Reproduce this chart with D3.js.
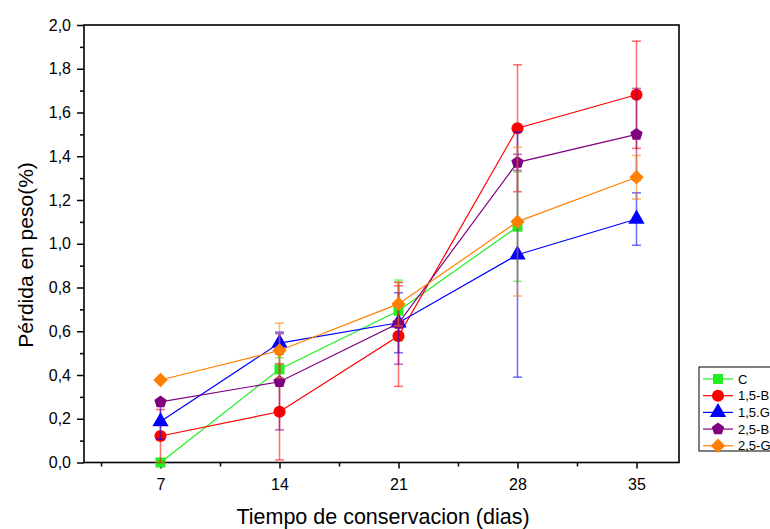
<!DOCTYPE html>
<html>
<head>
<meta charset="utf-8">
<script src="https://cdn.jsdelivr.net/npm/d3@7"></script>
<style>
  body { margin: 0; background: #fff; }
  svg { font-family: "Liberation Sans", Arial, sans-serif; }
</style>
</head>
<body>
<div id="chart"></div>
<script>
// days of storage
var days = [7, 14, 21, 28, 35];
var seriesNames = ["C", "1,5-B", "1,5.G", "2,5-B", "2,5-G"];
var seriesColors = ["#22ee22", "#ff0000", "#0000ff", "#800080", "#ff8000"];

// weight loss (%), null = no point
var valC   = [0.0, 0.426, 0.694, 1.078, null];
var val15B = [0.121, 0.232, 0.578, 1.528, 1.681];
var val15G = [0.187, 0.546, 0.639, 0.950, 1.113];
var val25B = [0.277, 0.369, 0.636, 1.372, 1.500];
var val25G = [0.377, 0.512, 0.725, 1.101, 1.304];

// error bar half heights
var errC   = [0.0, 0.053, 0.14, 0.25, null];
var err15B = [0.121, 0.22, 0.23, 0.29, 0.245];
var err15G = [0.08, 0.05, 0.137, 0.56, 0.12];
var err25B = [0.01, 0.22, 0.187, 0.037, 0.21];
var err25G = [0.0, 0.125, 0.10, 0.34, 0.10];

var yTicks = [0, 0.2, 0.4, 0.6, 0.8, 1.0, 1.2, 1.4, 1.6, 1.8, 2.0];

var allVals = [valC, val15B, val15G, val25B, val25G];
var allErrs = [errC, err15B, err15G, err25B, err25G];
var symbols = [d3.symbolSquare, d3.symbolCircle, d3.symbolTriangle, "pentagon", "diamond"];

var width = 770, height = 529;
var pLeft = 84, pRight = 679, pTop = 25, pBottom = 462.5;

var svg = d3.select("#chart").append("svg")
    .attr("width", width)
    .attr("height", height);

var x = d3.scaleLinear().domain([2.5, 37.5]).range([pLeft, pRight]);
var y = d3.scaleLinear().domain([0, 2]).range([pBottom, pTop]);

// frame
svg.append("rect")
    .attr("x", pLeft).attr("y", pTop)
    .attr("width", pRight - pLeft).attr("height", pBottom - pTop)
    .attr("fill", "none").attr("stroke", "#000").attr("stroke-width", 1.6);

// x axis, major + minor ticks
var xMinor = d3.range(3.5, 37.5, 7);
svg.append("g")
    .attr("transform", "translate(0," + pBottom + ")")
    .call(d3.axisBottom(x).tickValues(xMinor).tickSize(4).tickFormat(""))
    .call(function (g) { g.select(".domain").remove(); });
var xAxis = svg.append("g")
    .attr("transform", "translate(0," + pBottom + ")")
    .call(d3.axisBottom(x).tickValues(days).tickSize(6).tickPadding(10));
xAxis.select(".domain").remove();
xAxis.selectAll("text").attr("font-size", 16).attr("fill", "#000")
    .attr("font-family", "Liberation Sans, Arial, sans-serif");

// y axis
var yMinor = d3.range(0.1, 2.0, 0.2);
svg.append("g")
    .attr("transform", "translate(" + pLeft + ",0)")
    .call(d3.axisLeft(y).tickValues(yMinor).tickSize(4).tickFormat(""))
    .call(function (g) { g.select(".domain").remove(); });
var yAxis = svg.append("g")
    .attr("transform", "translate(" + pLeft + ",0)")
    .call(d3.axisLeft(y).tickValues(yTicks).tickSize(7).tickPadding(6)
        .tickFormat(function (d) { return d3.format(".1f")(d).replace(".", ","); }));
yAxis.select(".domain").remove();
yAxis.selectAll("text").attr("font-size", 16).attr("fill", "#000")
    .attr("font-family", "Liberation Sans, Arial, sans-serif");
svg.selectAll(".tick line").attr("stroke", "#000").attr("stroke-width", 1.5);

// axis titles
svg.append("text")
    .attr("x", 383).attr("y", 524)
    .attr("text-anchor", "middle").attr("font-size", 21.5)
    .text("Tiempo de conservacion (dias)");
svg.append("text")
    .attr("transform", "translate(33,255) rotate(-90)")
    .attr("text-anchor", "middle").attr("font-size", 21)
    .text("Pérdida en peso(%)");

function polygon(n, r, rot) {
    var pts = [];
    for (var k = 0; k < n; k++) {
        var a = rot + k * 2 * Math.PI / n;
        pts.push([r * Math.cos(a), r * Math.sin(a)]);
    }
    return "M" + pts.map(function (p) { return p.join(","); }).join("L") + "Z";
}

function markerPath(i) {
    if (symbols[i] === "pentagon") return polygon(5, 6.5, -Math.PI / 2);
    if (symbols[i] === "diamond") return polygon(4, 7.2, -Math.PI / 2);
    var sizes = [100, 115, 115];
    return d3.symbol().type(symbols[i]).size(sizes[i])();
}

// series
allVals.forEach(function (vals, i) {
    var pts = days.map(function (d, j) {
        return { day: d, v: vals[j], e: allErrs[i][j] };
    }).filter(function (p) { return p.v !== null; });
    var g = svg.append("g");
    var color = seriesColors[i];

    // error bars
    pts.forEach(function (p) {
        if (!p.e) return;
        var eb = g.append("g").attr("stroke", color).attr("stroke-opacity", 0.55).attr("stroke-width", 1.6);
        eb.append("line").attr("x1", x(p.day)).attr("x2", x(p.day))
            .attr("y1", y(p.v - p.e)).attr("y2", y(p.v + p.e));
        [p.v - p.e, p.v + p.e].forEach(function (v) {
            eb.append("line").attr("x1", x(p.day) - 4.5).attr("x2", x(p.day) + 4.5)
                .attr("y1", y(v)).attr("y2", y(v));
        });
    });

    g.append("path")
        .datum(pts)
        .attr("fill", "none")
        .attr("stroke", color)
        .attr("stroke-width", 1.2)
        .attr("d", d3.line().x(function (p) { return x(p.day); }).y(function (p) { return y(p.v); }));

    g.selectAll(".mk").data(pts).enter().append("path")
        .attr("class", "mk")
        .attr("transform", function (p) { return "translate(" + x(p.day) + "," + y(p.v) + ")"; })
        .attr("d", markerPath(i))
        .attr("fill", color);
});

// legend
var lg = svg.append("g").attr("transform", "translate(699,367)");
lg.append("rect").attr("width", 90).attr("height", 84)
    .attr("fill", "#fff").attr("stroke", "#000").attr("stroke-width", 1);
seriesNames.forEach(function (name, i) {
    var yy = 12 + i * 16.7;
    lg.append("line").attr("x1", 4).attr("x2", 34).attr("y1", yy).attr("y2", yy)
        .attr("stroke", seriesColors[i]).attr("stroke-width", 1.2);
    lg.append("path").attr("transform", "translate(19," + yy + ")")
        .attr("d", markerPath(i)).attr("fill", seriesColors[i]);
    lg.append("text").attr("x", 39).attr("y", yy + 4.5)
        .attr("font-size", 13).text(name);
});
</script>
</body>
</html>
